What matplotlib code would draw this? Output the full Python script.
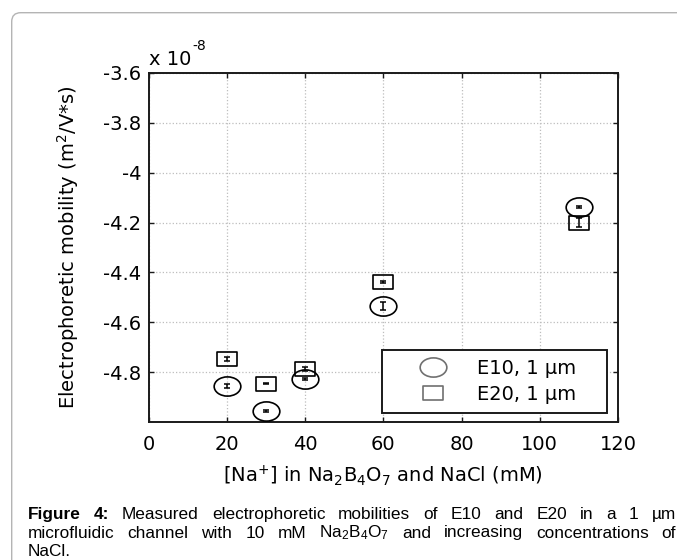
import numpy as np
import matplotlib
matplotlib.use('Agg')
import matplotlib.pyplot as plt
from matplotlib.path import Path
from matplotlib.lines import Line2D
from matplotlib.patches import FancyBboxPatch
from matplotlib.transforms import IdentityTransform

# ---------------- data (mobility in units of 1e-8 m^2/V*s) ----------------
na_conc = [20, 30, 40, 60, 110]
e10_mobility = [-4.856, -4.955, -4.825, -4.534, -4.137]
e10_err = [0.008, 0.003, 0.004, 0.015, 0.004]
e20_mobility = [-4.745, -4.845, -4.785, -4.438, -4.201]
e20_err = [0.008, 0.003, 0.008, 0.003, 0.018]
x_ticks = [0, 20, 40, 60, 80, 100, 120]
x_tick_labels = ['0', '20', '40', '60', '80', '100', '120']
y_ticks = [-4.8, -4.6, -4.4, -4.2, -4.0, -3.8, -3.6]
y_tick_labels = ['-4.8', '-4.6', '-4.4', '-4.2', '-4', '-3.8', '-3.6']
series_labels = ['E10, 1 µm', 'E20, 1 µm']
scale_exponent = '-8'
x_label = r'[Na$^{+}$] in Na$_2$B$_4$O$_7$ and NaCl (mM)'
y_label = r'Electrophoretic mobility (m$^2$/V*s)'
caption_lines = [
    [('Figure', True), ('4:', True), ('Measured', False), ('electrophoretic', False),
     ('mobilities', False), ('of', False), ('E10', False), ('and', False), ('E20', False),
     ('in', False), ('a', False), ('1', False), ('µm', False)],
    [('microfluidic', False), ('channel', False), ('with', False), ('10', False), ('mM', False),
     (r'Na$_2$B$_4$O$_7$', False), ('and', False), ('increasing', False),
     ('concentrations', False), ('of', False)],
    [('NaCl.', False)],
]

# ---------------- style ----------------
plt.rcParams['font.family'] = ['DejaVu Sans']
plt.rcParams['axes.unicode_minus'] = False
plt.rcParams['mathtext.fontset'] = 'dejavusans'
plt.rcParams['mathtext.rm'] = 'Liberation Sans'
plt.rcParams['mathtext.it'] = 'Liberation Sans:italic'
plt.rcParams['mathtext.bf'] = 'Liberation Sans:bold'

W, H = 677, 560
fig = plt.figure(figsize=(W / 100, H / 100), dpi=100)
fig.patch.set_facecolor('white')

# page frame (rounded box running off the right/bottom)
frame = FancyBboxPatch((11.7, -30), 720, H - 12.7 + 30,
                       boxstyle='round,pad=0,rounding_size=9',
                       transform=IdentityTransform(), fill=False,
                       ec='#b4b4b4', lw=1.0)
fig.add_artist(frame)

ax_l, ax_r, ax_t, ax_b = 148.7, 618.0, 72.7, 422.3
axw, axh = ax_r - ax_l, ax_b - ax_t
ax = fig.add_axes([ax_l / W, 1 - ax_b / H, axw / W, axh / H])

# markers: slightly flattened ellipse and rectangle
circ = Path.unit_circle()
ellipse_marker = Path(circ.vertices * np.array([1.0, 0.72]), circ.codes)
rect_marker = Path(np.array([[-1, -0.72], [1, -0.72], [1, 0.72], [-1, 0.72], [-1, -0.72]]),
                   [Path.MOVETO, Path.LINETO, Path.LINETO, Path.LINETO, Path.CLOSEPOLY])

ax.errorbar(na_conc, e10_mobility, yerr=e10_err, fmt='none', ecolor='black',
            elinewidth=1.1, capsize=2.5, capthick=1.1, zorder=3)
ax.plot(na_conc, e10_mobility, ls='none', marker=ellipse_marker, ms=19.2,
        mfc='none', mec='black', mew=1.2, zorder=4)
ax.errorbar(na_conc, e20_mobility, yerr=e20_err, fmt='none', ecolor='black',
            elinewidth=1.1, capsize=2.5, capthick=1.1, zorder=3)
ax.plot(na_conc, e20_mobility, ls='none', marker=rect_marker, ms=14.9,
        mfc='none', mec='black', mew=1.2, zorder=4)

ax.set_xlim(0, 120)
ax.set_ylim(-5.0, -3.6)
ax.set_xticks(x_ticks)
ax.set_xticklabels(x_tick_labels)
ax.set_yticks(y_ticks)
ax.set_yticklabels(y_tick_labels)
ax.grid(True, ls=':', color='#bdbdbd', lw=0.9)
ax.set_axisbelow(True)
for s in ax.spines.values():
    s.set_linewidth(1.4)
    s.set_color('#1a1a1a')
ax.tick_params(axis='both', direction='in', length=3.5, width=1.0, labelsize=14,
               top=True, right=True, colors='#1a1a1a', labelcolor='black')
ax.tick_params(axis='x', pad=9.5)
ax.tick_params(axis='y', pad=5.5)

ax.set_xlabel(x_label, fontsize=14)
ax.xaxis.set_label_coords(0.5, -(463 - ax_b) / axh)
ax.set_ylabel(y_label, fontsize=14)
ax.yaxis.set_label_coords((81 - ax_l) / axw, 0.5)

# scale factor "x 10^-8"
fig.text(149 / W, 1 - 65 / H, 'x 10', fontsize=14, ha='left', va='baseline')
fig.text(192 / W, 1 - 50 / H, scale_exponent, fontsize=10, ha='left', va='baseline')

# legend (expanded to the reference box width)
handles = [Line2D([], [], ls='none', marker=ellipse_marker, ms=19.2, mfc='none',
                  mec='#707070', mew=1.2),
           Line2D([], [], ls='none', marker=rect_marker, ms=14.9, mfc='none',
                  mec='#707070', mew=1.2)]
leg_x0, leg_x1, leg_y1 = 381.7, 606.7, 412.7
leg = ax.legend(handles, series_labels, loc='lower left', mode='expand',
                bbox_to_anchor=((leg_x0 - ax_l) / axw, (ax_b - leg_y1) / axh,
                                (leg_x1 - leg_x0) / axw, 62 / axh),
                borderaxespad=0, fontsize=14, borderpad=0.45, labelspacing=0.36,
                handlelength=4.35, handletextpad=0.1, fancybox=False, framealpha=1,
                edgecolor='#1a1a1a')
leg.get_frame().set_linewidth(1.4)

# caption (justified)
renderer = fig.canvas.get_renderer()
cap_x0, cap_x1 = 28.0, 676.0
cap_baselines = [519.0, 537.5, 556.0]
for li, (words, yb) in enumerate(zip(caption_lines, cap_baselines)):
    texts = []
    for w, bold in words:
        t = fig.text(0, 1 - yb / H, w, fontsize=12.4, family='Liberation Sans',
                     weight='bold' if bold else 'normal', ha='left', va='baseline',
                     math_fontfamily='custom')
        texts.append(t)
    widths = [t.get_window_extent(renderer).width for t in texts]
    if li < len(caption_lines) - 1 and len(words) > 1:
        gap = (cap_x1 - cap_x0 - sum(widths)) / (len(words) - 1)
    else:
        gap = 4.0
    x = cap_x0
    for t, wd in zip(texts, widths):
        t.set_x(x / W)
        x += wd + gap

fig.savefig('out.png', dpi=100)
